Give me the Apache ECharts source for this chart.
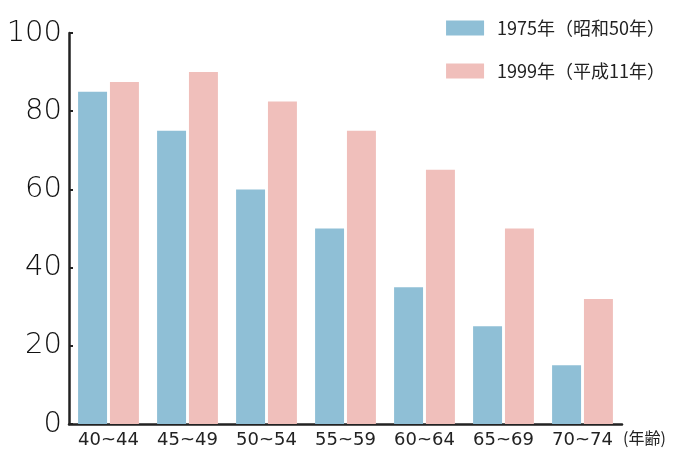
<!DOCTYPE html>
<html>
<head>
<meta charset="utf-8">
<script src="https://cdn.jsdelivr.net/npm/echarts@6/dist/echarts.min.js"></script>
<style>html,body{margin:0;padding:0;background:#fff}#c{width:680px;height:454px}</style>
</head>
<body>
<div id="c"></div>
<script>
const categories = ['40~44','45~49','50~54','55~59','60~64','65~69','70~74'];
const series1975 = [85, 75, 60, 50, 35, 25, 15];
const series1999 = [87.5, 90, 82.5, 75, 65, 50, 32];
const seriesNames = ['1975年（昭和50年）', '1999年（平成11年）'];
const yTicks = [0, 20, 40, 60, 80, 100];

const cjk = '"Noto Sans CJK JP", "Noto Sans", sans-serif';
const num = '"DejaVu Sans", "Noto Sans CJK JP", sans-serif';
const chart = echarts.init(document.getElementById('c'));
chart.setOption({
  animation: false,
  backgroundColor: '#ffffff',
  textStyle: { fontFamily: cjk },
  legend: {
    orient: 'vertical',
    right: 10,
    top: 14,
    icon: 'rect',
    itemWidth: 38,
    itemHeight: 15,
    itemGap: 25,
    textStyle: { fontFamily: cjk, fontSize: 18, color: '#222', padding: [0, 0, 0, 8] },
    data: seriesNames
  },
  grid: { left: 69, right: 58, top: 33, bottom: 30, containLabel: false },
  xAxis: {
    type: 'category',
    data: categories,
    name: '(年齢)',
    nameLocation: 'end',
    nameGap: 1,
    nameTextStyle: { fontFamily: cjk, fontSize: 16, color: '#222', verticalAlign: 'top', padding: [6, 0, 0, 0] },
    axisLine: { lineStyle: { color: '#222', width: 2.5 } },
    axisTick: { inside: true, length: 5, lineStyle: { color: '#222', width: 2 } },
    axisLabel: { interval: 0, fontFamily: num, fontSize: 18, color: '#222', margin: 7 }
  },
  yAxis: {
    type: 'value',
    min: 0,
    max: 100,
    interval: 20,
    axisLine: { show: true, lineStyle: { color: '#222', width: 2.5 } },
    axisTick: { show: true, inside: true, length: 4, lineStyle: { color: '#222', width: 2 } },
    splitLine: { show: false },
    axisLabel: { fontFamily: num, fontSize: 29, fontWeight: 200, color: '#111', margin: 7,
      formatter: v => yTicks.includes(v) ? String(v) : '' }
  },
  series: [
    { name: seriesNames[0], type: 'bar', data: series1975, barGap: '10%', barCategoryGap: '23%',
      itemStyle: { color: '#8fbfd6' } },
    { name: seriesNames[1], type: 'bar', data: series1999,
      itemStyle: { color: '#f0bfbb' } }
  ]
});
</script>
</body>
</html>
